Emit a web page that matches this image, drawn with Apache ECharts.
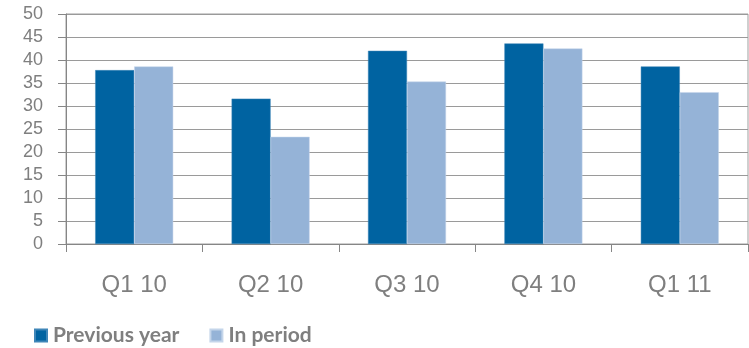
<!DOCTYPE html>
<html>
<head>
<meta charset="utf-8">
<script src="https://cdn.jsdelivr.net/npm/echarts@6/dist/echarts.min.js"></script>
<style>
html,body{margin:0;padding:0;background:#fff;}
#chart{width:749px;height:348px;}
</style>
</head>
<body>
<div id="chart"></div>
<script>
const categories = ['Q1 10', 'Q2 10', 'Q3 10', 'Q4 10', 'Q1 11'];
const previousYear = [37.8, 31.6, 42.0, 43.6, 38.6];
const inPeriod = [38.6, 23.3, 35.3, 42.5, 33.0];
const seriesNames = ['Previous year', 'In period'];

const chart = echarts.init(document.getElementById('chart'), null, {renderer: 'canvas'});
chart.setOption({
  animation: false,
  backgroundColor: '#ffffff',
  grid: {
    left: 66, right: 1, top: 14, bottom: 104,
    show: true, borderColor: '#9f9f9f', borderWidth: 1
  },
  legend: {
    left: 29, top: 320,
    icon: 'rect', itemWidth: 12, itemHeight: 12, itemGap: 30,
    textStyle: {fontFamily: 'Lato', fontWeight: 'bold', fontSize: 21, color: '#7f7f7f', padding: [0, 0, 0, 1]},
    data: seriesNames
  },
  xAxis: {
    type: 'category',
    data: categories,
    axisLine: {lineStyle: {color: '#868686', width: 1}},
    axisTick: {show: true, length: 8, lineStyle: {color: '#868686'}},
    axisLabel: {fontFamily: 'Arial, Liberation Sans', fontSize: 24, color: '#7f7f7f', margin: 29}
  },
  yAxis: {
    type: 'value',
    min: 0, max: 50, interval: 5,
    axisLine: {show: true, lineStyle: {color: '#868686', width: 1}},
    axisTick: {show: true, length: 8, lineStyle: {color: '#868686'}},
    axisLabel: {fontFamily: 'Arial, Liberation Sans', fontSize: 18, color: '#7f7f7f', margin: 23},
    splitLine: {show: true, lineStyle: {color: '#9a9a9a', width: 1}}
  },
  series: [
    {
      name: seriesNames[0], type: 'bar', data: previousYear,
      barWidth: 39, barGap: '0%',
      itemStyle: {color: '#0063a1', borderColor: '#3f86b8', borderWidth: 0.5}
    },
    {
      name: seriesNames[1], type: 'bar', data: inPeriod,
      barWidth: 39, barGap: '0%',
      itemStyle: {color: '#95b3d7', borderColor: '#c4d5ea', borderWidth: 0.5}
    }
  ]
});
</script>
</body>
</html>
